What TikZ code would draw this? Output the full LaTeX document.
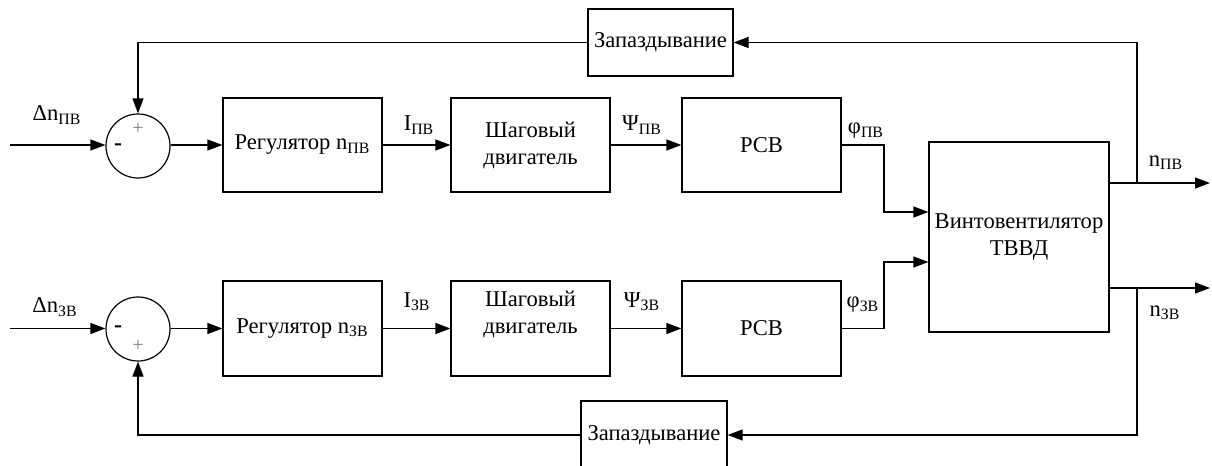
\documentclass[tikz,border=0pt]{standalone}
\usepackage{fontspec}
\setmainfont{Liberation Serif}
\usetikzlibrary{arrows.meta,calc}
\newcommand{\sbs}[1]{\textsubscript{#1}}
\begin{document}
\begin{tikzpicture}[x=0.5pt,y=-0.5pt,
  every node/.style={font=\fontsize{11.3}{13.5}\selectfont},
  blk/.style={draw,line width=0.6pt,inner sep=0pt,align=center},
  sumc/.style={draw,circle,line width=0.6pt,minimum size=32pt,inner sep=0pt},
  lin/.style={line width=0.6pt},
  arr/.style={lin,-{Triangle[length=7.5pt,width=5.5pt]}},
  lbl/.style={inner sep=0pt},
  pl/.style={inner sep=0pt,text=gray,font=\fontsize{10}{12}\selectfont},
  mn/.style={inner sep=0pt,font=\bfseries\fontsize{12}{12}\selectfont}]
\clip (0,0) rectangle (1212,466);
% blocks
\node[blk,minimum width=72.5pt,minimum height=33.5pt] (zapT) at (660.5,42.5) {Запаздывание};
\node[blk,minimum width=73pt,minimum height=34pt] (zapB) at (654,435) {Запаздывание};
\node[sumc] (sum1) at (138,146) {};
\node[sumc] (sum2) at (138,329) {};
\node[blk,minimum width=79.5pt,minimum height=47pt] (reg1) at (302.5,145) {Регулятор n\sbs{ПВ}};
\node[blk,minimum width=79.5pt,minimum height=47.5pt] (reg2) at (302.5,328.5) {Регулятор n\sbs{ЗВ}};
\node[blk,minimum width=79.5pt,minimum height=47pt] (step1) at (530.5,145) {Шаговый\\двигатель};
\node[blk,minimum width=79.5pt,minimum height=47.5pt] (step2) at (530.5,328.5) {};
\node[lbl,align=center] (step2t) at (530.5,314) {Шаговый\\двигатель};
\node[blk,minimum width=79.5pt,minimum height=47pt] (pcb1) at (761.5,145) {РСВ};
\node[blk,minimum width=79.5pt,minimum height=47.5pt] (pcb2) at (761.5,328.5) {РСВ};
\node[blk,minimum width=90pt,minimum height=95pt] (vent) at (1019,237) {Винтовентилятор\\ТВВД};
% signs
\node[mn] (m1) at (118,147) {-};
\node[pl] (p1) at (138,129) {+};
\node[mn] (m2) at (118,329) {-};
\node[pl] (p2) at (138,346) {+};
% free ends
\coordinate (inT) at (10,145);
\coordinate (inB) at (10,328.5);
\coordinate (outT) at (1210,183);
\coordinate (outB) at (1210,288);
\coordinate (fT) at (1137,183);
\coordinate (fB) at (1137,288);
\coordinate (jT) at (884,212);
\coordinate (jB) at (884,262);
% labels
\node[lbl] (l1) at (57,115) {Δn\sbs{ПВ}};
\node[lbl] (l2) at (55,307) {Δn\sbs{ЗВ}};
\node[lbl] (l3) at (419,125) {I\sbs{ПВ}};
\node[lbl] (l4) at (417,302) {I\sbs{ЗВ}};
\node[lbl] (l5) at (642,125) {Ψ\sbs{ПВ}};
\node[lbl] (l6) at (642,302) {Ψ\sbs{ЗВ}};
\node[lbl] (l7) at (866,131) {φ\sbs{ПВ}};
\node[lbl] (l8) at (863,305) {φ\sbs{ЗВ}};
\node[lbl] (l9) at (1166,163) {n\sbs{ПВ}};
\node[lbl] (l10) at (1165,313) {n\sbs{ЗВ}};
% connectors
\draw[arr] (inT) -- (sum1.west |- inT);
\draw[arr] (inB) -- (sum2.west |- inB);
\draw[arr] (sum1.east |- reg1.west) -- (reg1.west);
\draw[arr] (sum2.east |- reg2.west) -- (reg2.west);
\draw[arr] (reg1.east) -- (step1.west);
\draw[arr] (reg2.east) -- (step2.west);
\draw[arr] (step1.east) -- (pcb1.west);
\draw[arr] (step2.east) -- (pcb2.west);
\draw[arr] (pcb1.east) -| (jT) -- (jT -| vent.west);
\draw[arr] (pcb2.east) -| (jB) -- (jB -| vent.west);
\draw[arr] (vent.east |- outT) -- (outT);
\draw[arr] (vent.east |- outB) -- (outB);
\draw[arr] (fT) |- (zapT.east);
\draw[arr] (zapT.west) -| (sum1.north);
\draw[arr] (fB) |- (zapB.east);
\draw[arr] (zapB.west) -| (sum2.south);
\end{tikzpicture}
\end{document}
